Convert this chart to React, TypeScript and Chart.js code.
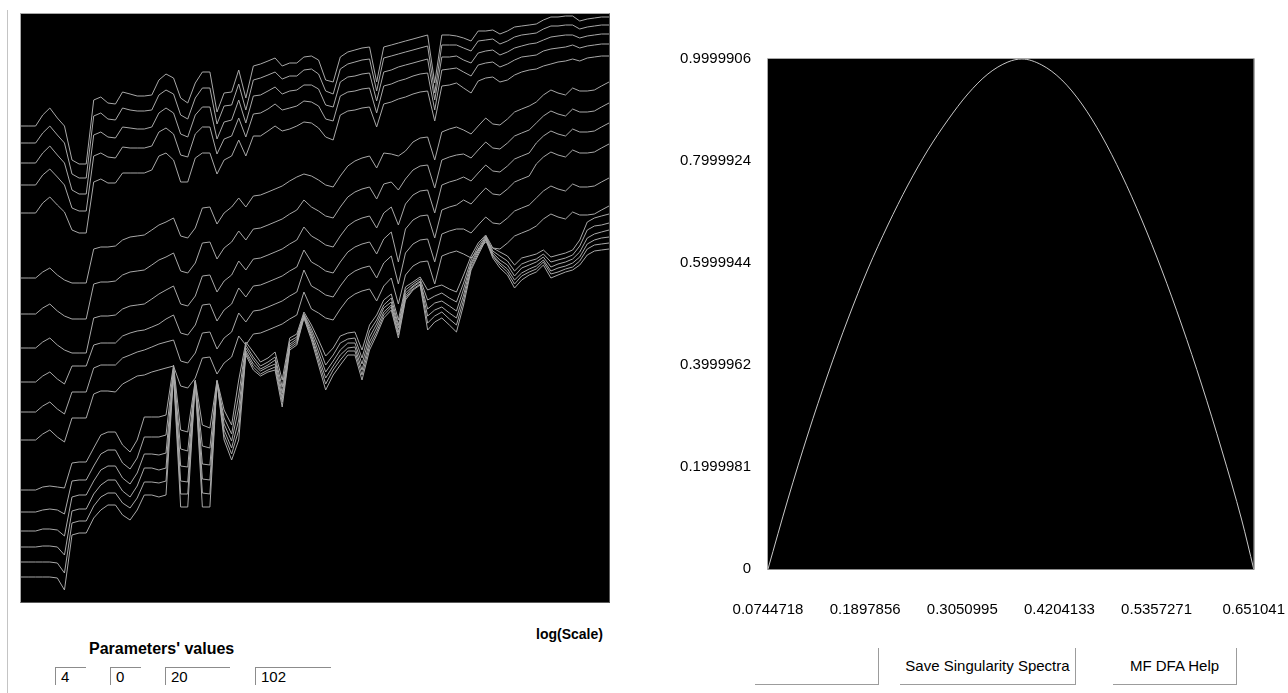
import React, { useEffect, useRef } from "react";
import { Chart, registerables } from "chart.js";

Chart.register(...registerables);

// ---------- Left chart: log F(q) vs log(Scale) ----------
const logScale = [
  0.602, 0.619, 0.637, 0.654, 0.671, 0.689, 0.706, 0.724, 0.741, 0.758,
  0.776, 0.793, 0.81, 0.828, 0.845, 0.863, 0.88, 0.897, 0.915, 0.932,
  0.949, 0.967, 0.984, 1.001, 1.019, 1.036, 1.054, 1.071, 1.088, 1.106,
  1.123, 1.14, 1.158, 1.175, 1.193, 1.21, 1.227, 1.245, 1.262, 1.279,
  1.297, 1.314, 1.331, 1.349, 1.366, 1.384, 1.401, 1.418, 1.436, 1.453,
  1.47, 1.488, 1.505, 1.522, 1.54, 1.557, 1.575, 1.592, 1.609, 1.627,
  1.644, 1.661, 1.679, 1.696, 1.714, 1.731, 1.748, 1.766, 1.783, 1.8,
  1.818, 1.835, 1.852, 1.87, 1.887, 1.905, 1.922, 1.939, 1.957, 1.974,
  1.991, 2.009,
];

const fq1 = [
  4.76, 4.76, 4.76, 4.87, 4.94, 4.84, 4.76, 4.42, 4.38, 4.38,
  5.02, 5.05, 4.99, 4.98, 5.1, 5.08, 5.06, 5.06, 5.07, 5.22,
  5.28, 5.24, 5.04, 4.99, 5.19, 5.3, 5.3, 4.9, 5.09, 5.1,
  5.32, 5.04, 5.36, 5.38, 5.41, 5.44, 5.36, 5.39, 5.39, 5.45,
  5.46, 5.42, 5.22, 5.2, 5.45, 5.5, 5.52, 5.54, 5.55, 5.2,
  5.55, 5.57, 5.59, 5.61, 5.63, 5.65, 5.67, 5.19, 5.67, 5.67,
  5.66, 5.64, 5.61, 5.71, 5.71, 5.72, 5.68, 5.71, 5.75, 5.76,
  5.77, 5.78, 5.82, 5.85, 5.85, 5.86, 5.86, 5.81, 5.83, 5.84,
  5.85, 5.85,
];
const fq2 = [
  4.59, 4.59, 4.59, 4.69, 4.76, 4.67, 4.59, 4.28, 4.24, 4.24,
  4.86, 4.89, 4.83, 4.82, 4.94, 4.92, 4.91, 4.91, 4.92, 5.07,
  5.12, 5.08, 4.87, 4.83, 5.04, 5.14, 5.14, 4.78, 4.96, 4.97,
  5.18, 4.92, 5.22, 5.24, 5.27, 5.3, 5.23, 5.26, 5.26, 5.32,
  5.33, 5.28, 5.11, 5.08, 5.33, 5.38, 5.4, 5.42, 5.43, 5.11,
  5.44, 5.46, 5.48, 5.5, 5.52, 5.54, 5.56, 5.09, 5.57, 5.57,
  5.57, 5.54, 5.51, 5.61, 5.62, 5.63, 5.58, 5.61, 5.65, 5.67,
  5.68, 5.69, 5.73, 5.76, 5.76, 5.77, 5.77, 5.73, 5.75, 5.76,
  5.77, 5.77,
];
const fq3 = [
  4.39, 4.39, 4.39, 4.49, 4.56, 4.47, 4.39, 4.12, 4.08, 4.08,
  4.67, 4.7, 4.65, 4.64, 4.75, 4.74, 4.73, 4.73, 4.75, 4.89,
  4.94, 4.89, 4.68, 4.65, 4.87, 4.95, 4.95, 4.63, 4.8, 4.82,
  5.02, 4.79, 5.06, 5.07, 5.11, 5.15, 5.08, 5.11, 5.12, 5.17,
  5.17, 5.13, 4.97, 4.95, 5.2, 5.25, 5.26, 5.28, 5.29, 5.01,
  5.3, 5.32, 5.35, 5.37, 5.39, 5.41, 5.43, 5.02, 5.45, 5.45,
  5.46, 5.42, 5.39, 5.49, 5.51, 5.52, 5.47, 5.5, 5.54, 5.56,
  5.58, 5.59, 5.62, 5.65, 5.66, 5.67, 5.67, 5.64, 5.66, 5.67,
  5.68, 5.68,
];
const fq4 = [
  4.17, 4.17, 4.17, 4.27, 4.33, 4.25, 4.17, 3.94, 3.91, 3.91,
  4.46, 4.49, 4.45, 4.44, 4.55, 4.54, 4.54, 4.54, 4.56, 4.7,
  4.74, 4.68, 4.47, 4.45, 4.68, 4.75, 4.75, 4.48, 4.63, 4.66,
  4.84, 4.65, 4.88, 4.89, 4.93, 4.98, 4.92, 4.94, 4.96, 5.01,
  5.0, 4.96, 4.83, 4.81, 5.06, 5.1, 5.11, 5.13, 5.14, 4.89,
  5.16, 5.18, 5.21, 5.23, 5.26, 5.28, 5.29, 4.92, 5.32, 5.33,
  5.34, 5.3, 5.26, 5.37, 5.39, 5.4, 5.35, 5.38, 5.42, 5.45,
  5.46, 5.47, 5.51, 5.53, 5.54, 5.55, 5.57, 5.54, 5.56, 5.57,
  5.58, 5.58,
];
const fq5 = [
  3.89, 3.89, 3.89, 3.99, 4.05, 3.97, 3.9, 3.72, 3.69, 3.69,
  4.2, 4.23, 4.19, 4.19, 4.29, 4.29, 4.29, 4.29, 4.32, 4.46,
  4.49, 4.42, 4.2, 4.2, 4.44, 4.49, 4.49, 4.28, 4.42, 4.46,
  4.62, 4.46, 4.66, 4.66, 4.71, 4.76, 4.71, 4.73, 4.76, 4.8,
  4.79, 4.74, 4.65, 4.62, 4.87, 4.91, 4.92, 4.94, 4.95, 4.75,
  4.98, 5.0, 5.03, 5.05, 5.08, 5.1, 5.11, 4.81, 5.16, 5.17,
  5.19, 5.14, 5.09, 5.21, 5.24, 5.25, 5.2, 5.22, 5.27, 5.3,
  5.32, 5.33, 5.36, 5.38, 5.4, 5.41, 5.43, 5.41, 5.44, 5.45,
  5.46, 5.46,
];
const fq6 = [
  3.24, 3.24, 3.24, 3.3, 3.34, 3.27, 3.22, 3.19, 3.19, 3.19,
  3.53, 3.55, 3.55, 3.56, 3.62, 3.65, 3.66, 3.67, 3.72, 3.77,
  3.8, 3.84, 3.66, 3.64, 3.74, 3.94, 3.95, 3.78, 3.89, 3.95,
  4.04, 3.95, 4.06, 4.07, 4.1, 4.13, 4.16, 4.21, 4.25, 4.28,
  4.26, 4.22, 4.17, 4.15, 4.26, 4.36, 4.41, 4.44, 4.46, 4.34,
  4.49, 4.48, 4.46, 4.51, 4.6, 4.64, 4.65, 4.42, 4.7, 4.73,
  4.75, 4.72, 4.68, 4.76, 4.84, 4.78, 4.77, 4.83, 4.9, 4.93,
  4.96, 5.0, 5.07, 5.12, 5.09, 5.07, 5.14, 5.11, 5.11, 5.12,
  5.16, 5.2,
];
const fq7 = [
  2.88, 2.88, 2.88, 2.94, 2.98, 2.91, 2.86, 2.83, 2.83, 2.83,
  3.18, 3.2, 3.2, 3.21, 3.27, 3.3, 3.31, 3.32, 3.37, 3.42,
  3.45, 3.49, 3.31, 3.29, 3.39, 3.59, 3.6, 3.43, 3.54, 3.6,
  3.71, 3.62, 3.73, 3.74, 3.77, 3.8, 3.83, 3.88, 3.92, 4.02,
  3.95, 3.91, 3.86, 3.84, 3.95, 4.05, 4.1, 4.13, 4.15, 4.03,
  4.18, 4.2, 4.12, 4.23, 4.32, 4.36, 4.37, 4.14, 4.42, 4.45,
  4.47, 4.48, 4.44, 4.52, 4.6, 4.54, 4.53, 4.59, 4.66, 4.69,
  4.72, 4.79, 4.86, 4.91, 4.88, 4.86, 4.93, 4.9, 4.9, 4.91,
  4.95, 4.99,
];
const fq8 = [
  2.54, 2.54, 2.54, 2.6, 2.64, 2.57, 2.52, 2.49, 2.49, 2.49,
  2.84, 2.86, 2.86, 2.87, 2.93, 2.96, 2.97, 2.98, 3.03, 3.08,
  3.12, 3.16, 2.98, 2.96, 3.06, 3.26, 3.27, 3.1, 3.21, 3.27,
  3.41, 3.32, 3.43, 3.44, 3.47, 3.5, 3.53, 3.58, 3.62, 3.75,
  3.66, 3.62, 3.57, 3.55, 3.66, 3.76, 3.81, 3.84, 3.86, 3.74,
  3.89, 3.95, 3.77, 3.98, 4.07, 4.11, 4.12, 3.89, 4.17, 4.2,
  4.22, 4.25, 4.21, 4.29, 4.37, 4.31, 4.3, 4.36, 4.43, 4.46,
  4.49, 4.59, 4.66, 4.71, 4.68, 4.66, 4.73, 4.7, 4.7, 4.71,
  4.75, 4.79,
];
const fq9 = [
  2.2, 2.2, 2.2, 2.26, 2.3, 2.23, 2.18, 2.36, 2.36, 2.36,
  2.57, 2.59, 2.59, 2.59, 2.66, 2.69, 2.71, 2.72, 2.75, 2.78,
  2.83, 2.87, 2.69, 2.67, 2.77, 2.97, 2.98, 2.81, 2.92, 2.98,
  3.14, 3.05, 3.16, 3.17, 3.2, 3.23, 3.26, 3.31, 3.35, 3.52,
  3.4, 3.36, 3.31, 3.29, 3.4, 3.5, 3.55, 3.58, 3.6, 3.48,
  3.63, 3.7, 3.4, 3.73, 3.82, 3.86, 3.87, 3.64, 3.92, 3.95,
  3.97, 4.02, 3.98, 4.06, 4.14, 4.08, 4.07, 4.13, 4.2, 4.23,
  4.26, 4.38, 4.45, 4.5, 4.47, 4.45, 4.52, 4.49, 4.49, 4.5,
  4.54, 4.58,
];
const fq10 = [
  1.9, 1.9, 1.9, 1.96, 2.0, 1.93, 1.88, 2.1, 2.1, 2.1,
  2.34, 2.37, 2.37, 2.37, 2.44, 2.47, 2.5, 2.52, 2.55, 2.58,
  2.6, 2.62, 2.41, 2.39, 2.49, 2.69, 2.7, 2.53, 2.64, 2.7,
  2.89, 2.8, 2.91, 2.92, 2.95, 2.98, 3.01, 3.06, 3.1, 3.32,
  3.16, 3.12, 3.07, 3.05, 3.16, 3.26, 3.31, 3.34, 3.36, 3.24,
  3.39, 3.46, 3.18, 3.49, 3.58, 3.62, 3.63, 3.4, 3.68, 3.71,
  3.73, 3.73, 3.69, 3.77, 3.85, 3.79, 3.78, 3.84, 3.91, 3.94,
  3.97, 4.04, 4.11, 4.16, 4.13, 4.11, 4.18, 4.15, 4.15, 4.16,
  4.2, 4.24,
];
const fq11 = [
  1.62, 1.62, 1.62, 1.68, 1.72, 1.65, 1.6, 1.84, 1.84, 1.84,
  2.08, 2.11, 2.11, 2.1, 2.18, 2.22, 2.26, 2.27, 2.3, 2.32,
  2.34, 2.36, 2.16, 2.14, 2.24, 2.44, 2.45, 2.28, 2.39, 2.45,
  2.66, 2.57, 2.68, 2.69, 2.72, 2.75, 2.78, 2.83, 2.87, 3.1,
  2.93, 2.89, 2.84, 2.82, 2.93, 3.03, 3.08, 3.11, 3.13, 3.01,
  3.16, 3.24, 2.98, 3.27, 3.36, 3.4, 3.41, 3.18, 3.46, 3.49,
  3.51, 3.48, 3.44, 3.52, 3.6, 3.54, 3.53, 3.59, 3.66, 3.69,
  3.72, 3.76, 3.83, 3.88, 3.85, 3.83, 3.9, 3.87, 3.87, 3.88,
  3.92, 3.96,
];
const fq12 = [
  1.12, 1.12, 1.12, 1.15, 1.16, 1.15, 1.14, 1.39, 1.4, 1.4,
  1.54, 1.67, 1.7, 1.7, 1.57, 1.5, 1.62, 1.85, 1.85, 1.85,
  1.87, 2.37, 1.72, 1.7, 2.22, 1.77, 1.74, 2.22, 1.92, 1.77,
  2.22, 2.6, 2.5, 2.4, 2.44, 2.5, 2.22, 2.64, 2.68, 2.9,
  2.77, 2.62, 2.46, 2.54, 2.66, 2.69, 2.7, 2.52, 2.77, 2.87,
  3.02, 3.08, 2.82, 3.15, 3.2, 3.25, 3.12, 3.15, 3.17, 3.13,
  3.1, 3.27, 3.46, 3.59, 3.67, 3.54, 3.5, 3.46, 3.37, 3.44,
  3.46, 3.48, 3.52, 3.45, 3.47, 3.49, 3.52, 3.62, 3.8, 3.84,
  3.86, 3.88,
];
const fq13 = [
  0.9, 0.9, 0.9, 0.92, 0.93, 0.92, 0.88, 1.21, 1.22, 1.22,
  1.36, 1.48, 1.52, 1.52, 1.39, 1.33, 1.44, 1.65, 1.65, 1.65,
  1.67, 2.34, 1.53, 1.51, 2.21, 1.56, 1.54, 2.21, 1.84, 1.68,
  2.07, 2.57, 2.45, 2.36, 2.4, 2.45, 2.15, 2.61, 2.65, 2.88,
  2.73, 2.56, 2.37, 2.47, 2.59, 2.63, 2.64, 2.44, 2.71, 2.82,
  2.97, 3.04, 2.77, 3.12, 3.18, 3.23, 3.02, 3.06, 3.09, 3.04,
  3.0, 3.19, 3.42, 3.56, 3.66, 3.51, 3.46, 3.41, 3.31, 3.38,
  3.41, 3.43, 3.48, 3.4, 3.42, 3.44, 3.47, 3.56, 3.72, 3.76,
  3.77, 3.79,
];
const fq14 = [
  0.71, 0.71, 0.71, 0.73, 0.73, 0.72, 0.66, 1.05, 1.07, 1.07,
  1.21, 1.32, 1.36, 1.36, 1.24, 1.18, 1.29, 1.48, 1.48, 1.47,
  1.49, 2.32, 1.36, 1.35, 2.21, 1.38, 1.37, 2.21, 1.78, 1.61,
  1.94, 2.54, 2.42, 2.33, 2.37, 2.42, 2.09, 2.58, 2.63, 2.87,
  2.7, 2.5, 2.3, 2.41, 2.52, 2.59, 2.59, 2.38, 2.65, 2.78,
  2.94, 3.0, 2.74, 3.09, 3.16, 3.21, 2.93, 2.99, 3.01, 2.96,
  2.91, 3.13, 3.39, 3.53, 3.65, 3.49, 3.42, 3.37, 3.26, 3.34,
  3.37, 3.4, 3.45, 3.35, 3.38, 3.4, 3.43, 3.5, 3.64, 3.68,
  3.7, 3.72,
];
const fq15 = [
  0.55, 0.55, 0.55, 0.56, 0.56, 0.55, 0.47, 0.91, 0.93, 0.93,
  1.08, 1.17, 1.22, 1.22, 1.11, 1.05, 1.16, 1.34, 1.34, 1.32,
  1.34, 2.3, 1.21, 1.2, 2.21, 1.23, 1.22, 2.21, 1.72, 1.54,
  1.82, 2.51, 2.38, 2.31, 2.35, 2.38, 2.04, 2.56, 2.61, 2.86,
  2.67, 2.45, 2.24, 2.36, 2.47, 2.54, 2.55, 2.32, 2.6, 2.74,
  2.9, 2.97, 2.7, 3.06, 3.15, 3.2, 2.86, 2.92, 2.95, 2.89,
  2.84, 3.07, 3.37, 3.51, 3.64, 3.47, 3.39, 3.33, 3.22, 3.29,
  3.33, 3.36, 3.42, 3.31, 3.34, 3.36, 3.39, 3.45, 3.58, 3.62,
  3.64, 3.65,
];
const fq16 = [
  0.4, 0.4, 0.4, 0.4, 0.4, 0.39, 0.29, 0.79, 0.81, 0.81,
  0.96, 1.05, 1.09, 1.09, 0.99, 0.94, 1.04, 1.2, 1.2, 1.19,
  1.21, 2.29, 1.08, 1.08, 2.2, 1.09, 1.08, 2.2, 1.67, 1.48,
  1.72, 2.49, 2.35, 2.28, 2.32, 2.35, 2.0, 2.54, 2.59, 2.85,
  2.65, 2.41, 2.18, 2.32, 2.42, 2.51, 2.51, 2.27, 2.56, 2.7,
  2.87, 2.95, 2.67, 3.04, 3.13, 3.18, 2.79, 2.86, 2.9, 2.83,
  2.77, 3.02, 3.34, 3.49, 3.63, 3.46, 3.37, 3.3, 3.18, 3.26,
  3.3, 3.33, 3.4, 3.28, 3.3, 3.33, 3.35, 3.41, 3.53, 3.57,
  3.58, 3.59,
];
const fq17 = [
  0.25, 0.25, 0.25, 0.25, 0.25, 0.24, 0.12, 0.67, 0.69, 0.69,
  0.84, 0.92, 0.97, 0.97, 0.87, 0.82, 0.92, 1.07, 1.07, 1.05,
  1.07, 2.27, 0.95, 0.95, 2.2, 0.95, 0.95, 2.2, 1.62, 1.42,
  1.62, 2.47, 2.32, 2.26, 2.3, 2.32, 1.95, 2.52, 2.57, 2.84,
  2.62, 2.37, 2.12, 2.27, 2.37, 2.47, 2.47, 2.22, 2.52, 2.67,
  2.84, 2.92, 2.64, 3.02, 3.12, 3.17, 2.72, 2.8, 2.84, 2.77,
  2.7, 2.97, 3.32, 3.47, 3.62, 3.44, 3.34, 3.27, 3.14, 3.22,
  3.27, 3.3, 3.37, 3.24, 3.27, 3.3, 3.32, 3.37, 3.47, 3.51,
  3.52, 3.53,
];
const fqSeries = [fq1, fq2, fq3, fq4, fq5, fq6, fq7, fq8, fq9, fq10, fq11, fq12, fq13, fq14, fq15, fq16, fq17];
const logFMin = 0;
const logFMax = 5.88;

// ---------- Right chart: singularity spectrum f(alpha) ----------
const alpha = [
  0.0744718, 0.0982, 0.1219, 0.1457, 0.1694, 0.1931, 0.2168, 0.2406, 0.2643, 0.288,
  0.3117, 0.3355, 0.3592, 0.3758, 0.3995, 0.4233, 0.447, 0.4707, 0.4944, 0.5182,
  0.5419, 0.5656, 0.5894, 0.6131, 0.6368, 0.651041,
];
const fAlpha = [
  0, 0.1373, 0.2647, 0.3824, 0.4902, 0.5882, 0.6745, 0.7529, 0.8216, 0.8804,
  0.9314, 0.9706, 0.9941, 0.9999906, 0.9882, 0.9588, 0.9118, 0.849, 0.7725, 0.6843,
  0.5863, 0.4784, 0.3608, 0.2333, 0.0961, 0,
];
const xTickLabels = ["0.0744718", "0.1897856", "0.3050995", "0.4204133", "0.5357271", "0.651041"];
const yTickLabels = ["0", "0.1999981", "0.3999962", "0.5999944", "0.7999924", "0.9999906"];
const xTickValues = xTickLabels.map(Number);
const yTickValues = yTickLabels.map(Number);

const paramValues = ["4", "0", "20", "102"];
const buttonLabels = ["", "Save Singularity Spectra", "MF DFA Help"];

const FONT = '"Liberation Sans", Arial, Helvetica, sans-serif';

const blackArea = {
  id: "blackArea",
  beforeDraw(chart: any) {
    const { ctx, chartArea: a } = chart;
    ctx.save();
    ctx.fillStyle = "#000";
    ctx.fillRect(a.left, a.top, a.right - a.left, a.bottom - a.top);
    ctx.restore();
  },
};

const frame = {
  id: "frame",
  afterDraw(chart: any) {
    const { ctx, chartArea: a } = chart;
    ctx.save();
    ctx.lineWidth = 1;
    ctx.strokeStyle = "#a8a8a8";
    ctx.beginPath();
    ctx.moveTo(a.left - 0.5, a.bottom + 0.5);
    ctx.lineTo(a.left - 0.5, a.top - 0.5);
    ctx.lineTo(a.right + 0.5, a.top - 0.5);
    ctx.stroke();
    ctx.strokeStyle = "#8a8a8a";
    ctx.beginPath();
    ctx.moveTo(a.right + 0.5, a.top - 0.5);
    ctx.lineTo(a.right + 0.5, a.bottom + 0.5);
    ctx.lineTo(a.left - 0.5, a.bottom + 0.5);
    ctx.stroke();
    ctx.restore();
  },
};

function LeftChart() {
  const ref = useRef<HTMLCanvasElement | null>(null);
  useEffect(() => {
    if (!ref.current) return;
    const chart = new Chart(ref.current, {
      type: "line",
      data: {
        datasets: fqSeries.map((s) => ({
          data: s.map((v, i) => ({ x: logScale[i], y: v })),
          borderColor: "#a8a8a8",
          borderWidth: 1,
          pointRadius: 0,
          tension: 0,
          fill: false,
        })),
      },
      options: {
        responsive: false,
        animation: false,
        events: [],
        layout: { padding: 0 },
        plugins: { legend: { display: false }, tooltip: { enabled: false } },
        scales: {
          x: { type: "linear", display: false, min: logScale[0], max: logScale[logScale.length - 1] },
          y: { type: "linear", display: false, min: logFMin, max: logFMax },
        },
      },
      plugins: [blackArea],
    } as any);
    return () => chart.destroy();
  }, []);
  return <canvas ref={ref} width={588} height={588} style={{ display: "block" }} />;
}

function RightChart() {
  const ref = useRef<HTMLCanvasElement | null>(null);
  useEffect(() => {
    if (!ref.current) return;
    const tickFont = { family: FONT, size: 15 };
    const chart = new Chart(ref.current, {
      type: "line",
      data: {
        datasets: [
          {
            data: alpha.map((a, i) => ({ x: a, y: fAlpha[i] })),
            borderColor: "#c8c8c8",
            borderWidth: 1,
            pointRadius: 0,
            cubicInterpolationMode: "monotone",
            fill: false,
          },
        ],
      },
      options: {
        responsive: false,
        animation: false,
        events: [],
        layout: { padding: { left: 0, top: 59, right: 0, bottom: 0 } },
        plugins: { legend: { display: false }, tooltip: { enabled: false } },
        scales: {
          x: {
            type: "linear",
            min: xTickValues[0],
            max: xTickValues[xTickValues.length - 1],
            grid: { display: false, drawTicks: false },
            border: { display: false },
            afterBuildTicks: (s: any) => {
              s.ticks = xTickValues.map((v) => ({ value: v }));
            },
            afterFit: (s: any) => {
              s.height = 71;
            },
            ticks: {
              callback: (_v: any, i: number) => xTickLabels[i],
              font: tickFont,
              color: "#000",
              padding: 32,
              autoSkip: false,
              maxRotation: 0,
              minRotation: 0,
            },
          },
          y: {
            type: "linear",
            min: yTickValues[0],
            max: yTickValues[yTickValues.length - 1],
            grid: { display: false, drawTicks: false },
            border: { display: false },
            afterBuildTicks: (s: any) => {
              s.ticks = yTickValues.map((v) => ({ value: v }));
            },
            afterFit: (s: any) => {
              s.width = 108;
            },
            ticks: {
              callback: (_v: any, i: number) => yTickLabels[i],
              font: tickFont,
              color: "#000",
              padding: 17,
              autoSkip: false,
            },
          },
        },
      },
      plugins: [blackArea, frame],
    } as any);
    return () => chart.destroy();
  }, []);
  // chart area spans x 768..1254 on the page; the canvas runs past the page edge and is clipped
  return <canvas ref={ref} width={657} height={640} style={{ display: "block" }} />;
}

export default function App() {
  const boxes = [
    { left: 55, width: 31 },
    { left: 110, width: 31 },
    { left: 165, width: 65 },
    { left: 255, width: 76 },
  ];
  const buttons = [
    { left: 755, width: 124 },
    { left: 900, width: 176 },
    { left: 1113, width: 124 },
  ];
  return (
    <div
      style={{
        position: "absolute",
        left: 0,
        top: 0,
        width: 1288,
        height: 693,
        background: "#fff",
        overflow: "hidden",
        fontFamily: FONT,
        color: "#000",
      }}
    >
      <div style={{ position: "absolute", left: 7, top: 10, width: 0, height: 683, borderLeft: "1px solid #c4c4c4" }} />
      <div
        style={{
          position: "absolute",
          left: 20,
          top: 13,
          width: 588,
          height: 588,
          borderTop: "1px solid #a8a8a8",
          borderLeft: "1px solid #a8a8a8",
          borderRight: "1px solid #5a5a5a",
          borderBottom: "1px solid #5a5a5a",
        }}
      >
        <LeftChart />
      </div>
      <div style={{ position: "absolute", left: 660, top: 0 }}>
        <RightChart />
      </div>
      <div style={{ position: "absolute", left: 536, top: 626, fontSize: 14, fontWeight: "bold", lineHeight: "16px", whiteSpace: "nowrap" }}>
        log(Scale)
      </div>
      <div style={{ position: "absolute", left: 89, top: 640, fontSize: 16, fontWeight: "bold", lineHeight: "18px", whiteSpace: "nowrap" }}>
        Parameters' values
      </div>
      {paramValues.map((v, i) => (
        <div
          key={i}
          style={{
            position: "absolute",
            left: boxes[i].left,
            top: 667,
            width: boxes[i].width,
            height: 18,
            borderTop: "1px solid #8c8c8c",
            borderLeft: "1px solid #8c8c8c",
            fontSize: 15,
            lineHeight: "18px",
            paddingLeft: 5,
            boxSizing: "border-box",
            whiteSpace: "nowrap",
          }}
        >
          {v}
        </div>
      ))}
      {buttonLabels.map((t, i) => (
        <div
          key={i}
          style={{
            position: "absolute",
            left: buttons[i].left,
            top: 648,
            width: buttons[i].width,
            height: 37,
            borderRight: "1px solid #9c9c9c",
            borderBottom: "1px solid #9c9c9c",
            boxSizing: "border-box",
            fontSize: 15,
            lineHeight: "35px",
            textAlign: "center",
            whiteSpace: "nowrap",
          }}
        >
          {t}
        </div>
      ))}
    </div>
  );
}
